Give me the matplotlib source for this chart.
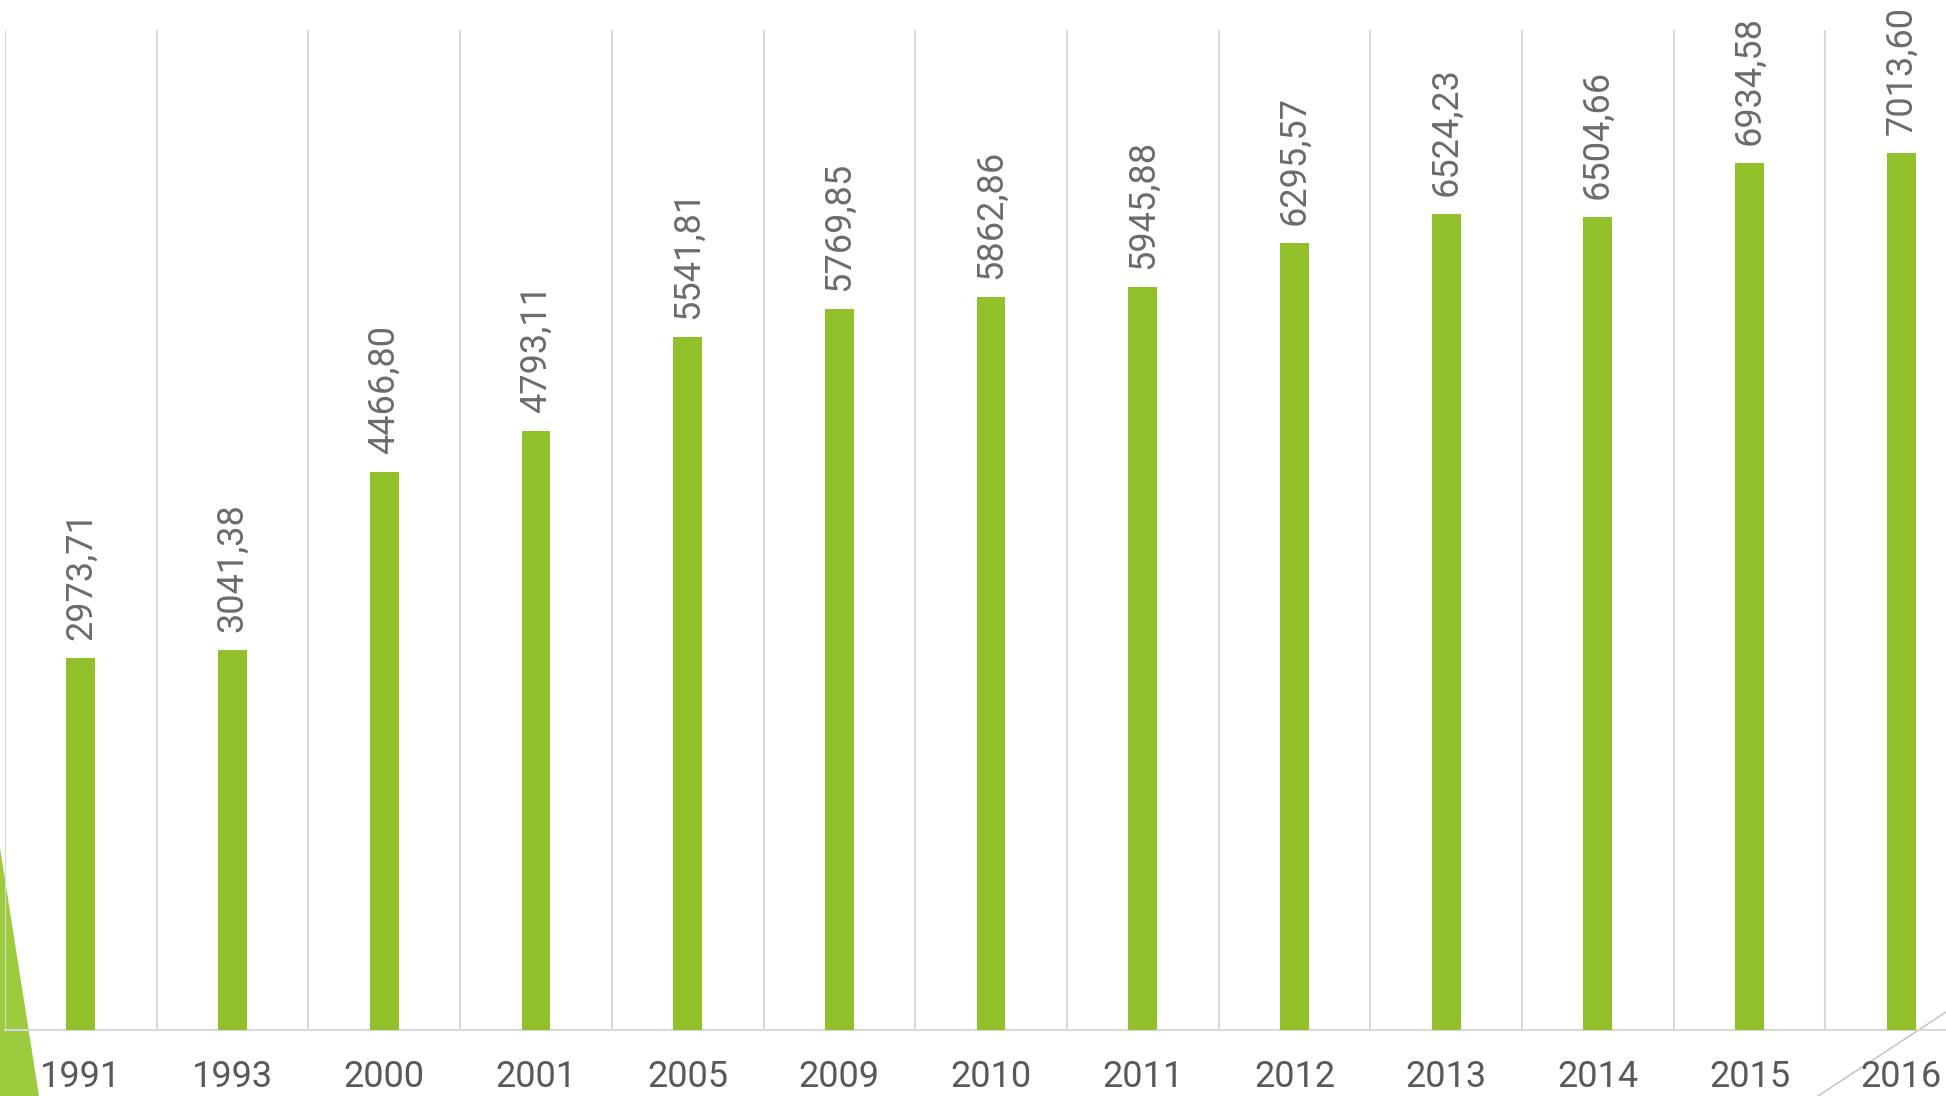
import matplotlib
matplotlib.use("Agg")
import matplotlib.pyplot as plt
from matplotlib.patches import Polygon
from matplotlib.lines import Line2D

years = ["1991", "1993", "2000", "2001", "2005", "2009", "2010", "2011",
         "2012", "2013", "2014", "2015", "2016"]
values = [2973.71, 3041.38, 4466.80, 4793.11, 5541.81, 5769.85, 5862.86,
          5945.88, 6295.57, 6524.23, 6504.66, 6934.58, 7013.60]

W, H = 1946, 1096
fig = plt.figure(figsize=(W / 100, H / 100), dpi=100)
fig.patch.set_facecolor("white")

cat_w = 151.7
left_px, top_px, base_px = 5, 30, 1030
ax = fig.add_axes([left_px / W, 1 - base_px / H, 13 * cat_w / W, (base_px - top_px) / H])
ax.set_facecolor("none")
ax.set_zorder(2)

x = list(range(len(years)))
ax.bar(x, values, width=0.19, color="#92C02A", zorder=3)
ax.set_xlim(-0.5, len(years) - 0.5)
ax.set_ylim(0, 8000)

for xi, v in zip(x, values):
    ax.annotate(f"{v:.2f}".replace(".", ","), (xi, v), xytext=(0, 13),
                textcoords="offset points", rotation=90, ha="center", va="bottom",
                fontsize=26, color="#6B6B6B", family="Roboto", annotation_clip=False)

for b in range(len(years) + 1):
    ax.axvline(b - 0.5, color="#D9D9D9", lw=1.5, zorder=1)

for s in ["top", "right", "left"]:
    ax.spines[s].set_visible(False)
ax.spines["bottom"].set_color("#D9D9D9")
ax.spines["bottom"].set_linewidth(1.5)
ax.set_yticks([])
ax.set_xticks(x)
ax.set_xticklabels(years, fontsize=26, color="#595959", family="Roboto")
ax.tick_params(axis="x", length=0, pad=21)

# decorations
fig.patches.append(Polygon([(0, 1 - 848 / H), (39 / W, 0), (0, 0)], closed=True,
                           transform=fig.transFigure, facecolor="#9DCB3E",
                           edgecolor="none", zorder=0))
fig.lines.append(Line2D([1818 / W, 1.0], [0, 1 - 1012 / H], transform=fig.transFigure,
                        color="#BFBFBF", lw=1, zorder=0))

fig.savefig("out.png", dpi=100)
